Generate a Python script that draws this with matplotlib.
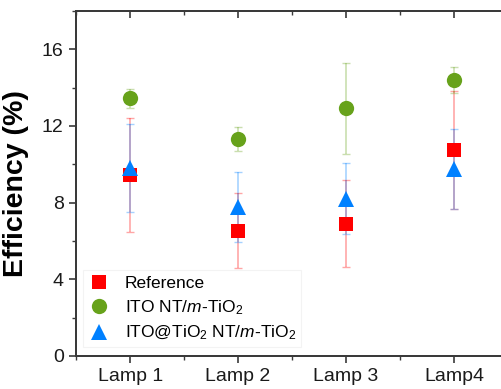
import matplotlib
matplotlib.use("Agg")
import matplotlib.pyplot as plt
from matplotlib.ticker import MultipleLocator
from matplotlib.colors import to_rgba

plt.rcParams['font.family'] = ['Liberation Sans', 'DejaVu Sans']
plt.rcParams['mathtext.fontset'] = 'custom'
plt.rcParams['mathtext.rm'] = 'Liberation Sans'
plt.rcParams['mathtext.it'] = 'Liberation Sans:italic'

lamps = ['Lamp 1', 'Lamp 2', 'Lamp 3', 'Lamp4']

ref_eff = [9.43, 6.54, 6.90, 10.74]
ref_err = [2.96, 1.94, 2.28, 3.07]

ito_eff = [13.45, 11.32, 12.92, 14.40]
ito_err = [0.50, 0.62, 2.39, 0.68]

core_eff = [9.80, 7.76, 8.21, 9.75]
core_err = [2.29, 1.84, 1.86, 2.08]

labels = ['Reference', 'ITO NT/$m$-TiO$_2$', 'ITO@TiO$_2$ NT/$m$-TiO$_2$']
yticks = [0, 4, 8, 12, 16]

fig = plt.figure(figsize=(5.01, 3.89), dpi=100)
ax = fig.add_axes([0.152, 0.0853, 0.862, 0.8864])

x = list(range(1, len(lamps) + 1))
spine_col = '#3a3a3a'

series = [
    (ref_eff, ref_err, '#ff0000', 's', 10),
    (ito_eff, ito_err, '#67a21b', 'o', 11),
    (core_eff, core_err, '#0080ff', '^', 12),
]
handles = []
for (vals, errs, col, mk, ms), lab in zip(series, labels):
    ax.errorbar(x, vals, yerr=errs, fmt='none', ecolor=to_rgba(col, 0.35),
                elinewidth=1.2, capsize=3, capthick=1.0, zorder=2)
    h, = ax.plot(x, vals, linestyle='none', marker=mk, markersize=ms,
                 color=col, markeredgewidth=0, zorder=3, label=lab)
    handles.append(h)

ax.set_xlim(0.5, 4.5)
ax.set_ylim(0, 18)
ax.set_xticks(x)
ax.set_xticklabels(lamps)
ax.xaxis.set_minor_locator(MultipleLocator(0.5))
ax.set_yticks(yticks)
ax.yaxis.set_minor_locator(MultipleLocator(2))

for s in ax.spines.values():
    s.set_color(spine_col)
    s.set_linewidth(1.2)

# bottom/left ticks point outward
ax.tick_params(axis='both', which='major', labelsize=14, colors=spine_col,
               labelcolor='#1a1a1a', width=1.2, length=5, pad=4,
               direction='out')
ax.tick_params(axis='both', which='minor', colors=spine_col, width=1.0,
               length=3, direction='out')

# top ticks point inward
top = ax.twiny()
top.set_xlim(0.5, 4.5)
top.set_xticks(x)
top.xaxis.set_minor_locator(MultipleLocator(0.5))
top.tick_params(axis='x', which='major', direction='in', top=True,
                labeltop=False, bottom=False, length=5, width=1.2,
                color=spine_col)
top.tick_params(axis='x', which='minor', direction='in', top=True,
                bottom=False, length=3, width=1.0, color=spine_col)

# right ticks point inward
right = ax.twinx()
right.set_ylim(0, 18)
right.set_yticks(yticks)
right.yaxis.set_minor_locator(MultipleLocator(2))
right.tick_params(axis='y', which='major', direction='in', right=True,
                  labelright=False, left=False, length=5, width=1.2,
                  color=spine_col)
right.tick_params(axis='y', which='minor', direction='in', right=True,
                  left=False, length=3, width=1.0, color=spine_col)

for tw in (top, right):
    for s in tw.spines.values():
        s.set_color(spine_col)
        s.set_linewidth(1.2)

ax.set_zorder(3)
ax.patch.set_visible(False)

ax.set_ylabel('Efficiency (%)', fontsize=20.5, fontweight='bold')
ax.yaxis.set_label_coords(-0.11, 0.5)

leg = ax.legend(handles=handles, loc='lower left', bbox_to_anchor=(0.0, 0.004),
                fontsize=12.5, frameon=True, fancybox=False, borderpad=0.3,
                handletextpad=0.9, labelspacing=0.42, handlelength=1.2,
                borderaxespad=0.4)
leg.get_frame().set_edgecolor('#f0f0f0')
leg.get_frame().set_linewidth(0.8)

fig.savefig('out.png', dpi=100)
